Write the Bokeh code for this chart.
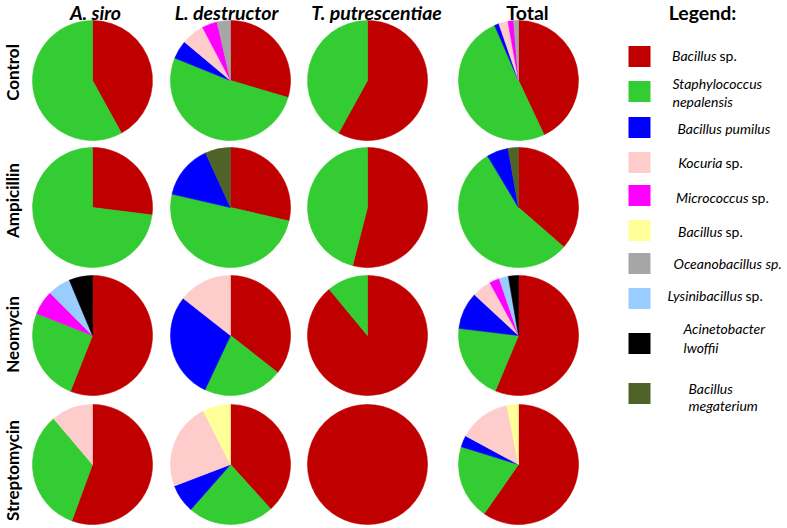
import math
from bokeh.plotting import figure
from bokeh.models import ColumnDataSource, Range1d
from bokeh.core.properties import value
from bokeh.embed import file_html
from bokeh.resources import INLINE

# ---------------- data ----------------
species = ["Bacillus sp.", "Staphylococcus nepalensis", "Bacillus pumilus", "Kocuria sp.",
           "Micrococcus sp.", "Bacillus sp.", "Oceanobacillus sp.", "Lysinibacillus sp.",
           "Acinetobacter lwoffii", "Bacillus megaterium"]
colors = ["#C00000", "#33CC33", "#0000FF", "#FFCCCC", "#FF00FF",
          "#FFFF99", "#A6A6A6", "#99CCFF", "#000000", "#4F6228"]
mites = ["A. siro", "L. destructor", "T. putrescentiae", "Total"]
treatments = ["Control", "Ampicillin", "Neomycin", "Streptomycin"]

# percentages, in species order
control_asiro = [42, 58, 0, 0, 0, 0, 0, 0, 0, 0]
control_ldestructor = [29.6, 51.5, 5.0, 6.2, 4.1, 0, 3.6, 0, 0, 0]
control_tputrescentiae = [58, 42, 0, 0, 0, 0, 0, 0, 0, 0]
control_total = [43, 50.5, 1.2, 2.5, 1.5, 0, 1.3, 0, 0, 0]
ampicillin_asiro = [27, 73, 0, 0, 0, 0, 0, 0, 0, 0]
ampicillin_ldestructor = [28.6, 50, 14.6, 0, 0, 0, 0, 0, 0, 6.8]
ampicillin_tputrescentiae = [54, 46, 0, 0, 0, 0, 0, 0, 0, 0]
ampicillin_total = [36.4, 55, 5.8, 0, 0, 0, 0, 0, 0, 2.8]
neomycin_asiro = [56, 25, 0, 0, 6.5, 0, 0, 6.2, 6.3, 0]
neomycin_ldestructor = [35.6, 21.4, 28.6, 14.4, 0, 0, 0, 0, 0, 0]
neomycin_tputrescentiae = [89, 11, 0, 0, 0, 0, 0, 0, 0, 0]
neomycin_total = [56.3, 20.6, 10, 5.2, 2.7, 0, 0, 2.5, 2.7, 0]
streptomycin_asiro = [55.6, 33.2, 0, 11.2, 0, 0, 0, 0, 0, 0]
streptomycin_ldestructor = [38.3, 23.2, 7.7, 23.3, 0, 7.5, 0, 0, 0, 0]
streptomycin_tputrescentiae = [100, 0, 0, 0, 0, 0, 0, 0, 0, 0]
streptomycin_total = [59.7, 20.1, 3.1, 14, 0, 3.1, 0, 0, 0, 0]

grid = [
    [control_asiro, control_ldestructor, control_tputrescentiae, control_total],
    [ampicillin_asiro, ampicillin_ldestructor, ampicillin_tputrescentiae, ampicillin_total],
    [neomycin_asiro, neomycin_ldestructor, neomycin_tputrescentiae, neomycin_total],
    [streptomycin_asiro, streptomycin_ldestructor, streptomycin_tputrescentiae, streptomycin_total],
]

# ---------------- layout (page pixel coordinates) ----------------
W, H = 787, 528
def Y(py):
    return H - py

col_x = [92, 230, 367, 518]
row_y = [80, 207, 335, 464]
R = 60

p = figure(width=W, height=H, output_backend="svg", toolbar_location=None,
           x_range=Range1d(0, W), y_range=Range1d(0, H),
           min_border=0, outline_line_color=None)
p.axis.visible = False
p.grid.visible = False

xs, ys, st, en, cl = [], [], [], [], []
for ri, row in enumerate(grid):
    for ci, vals in enumerate(row):
        tot = sum(vals)
        cum = 0.0
        for k, v in enumerate(vals):
            if v <= 0:
                continue
            a0 = cum / tot
            cum += v
            a1 = cum / tot
            if a1 - a0 > 0.9999:
                a1 = a0 + 0.99999
            xs.append(col_x[ci]); ys.append(Y(row_y[ri]))
            st.append(math.pi / 2 - 2 * math.pi * a1)
            en.append(math.pi / 2 - 2 * math.pi * a0)
            cl.append(colors[k])
src = ColumnDataSource(dict(x=xs, y=ys, start=st, end=en, color=cl))
p.wedge(x="x", y="y", radius=R, radius_units="screen", start_angle="start", end_angle="end",
        fill_color="color", line_color="color", line_width=0.6, source=src)

FONT = value("Lato")

# column headers
hdr_x = [95, 226, 376, 527]
hdr_style = ["bold italic", "bold italic", "bold italic", "bold"]
for t, x, s in zip(mites, hdr_x, hdr_style):
    p.text(x=[x], y=[Y(12)], text=[t], text_font=FONT, text_font_style=s,
           text_font_size="19.5px", text_align="center", text_baseline="middle", text_color="black")

# row labels
row_lab_y = [72, 200, 334, 470]
for t, yy in zip(treatments, row_lab_y):
    p.text(x=[12], y=[Y(yy)], text=[t], text_font=FONT, text_font_style="bold",
           text_font_size="17px", text_align="center", text_baseline="middle",
           angle=math.pi / 2, text_color="black")

# legend
p.text(x=[702], y=[Y(12)], text=["Legend:"], text_font=FONT, text_font_style="bold",
       text_font_size="19.5px", text_align="center", text_baseline="middle", text_color="black")
sw_y = [56, 91, 127, 162, 195, 230, 263, 298, 343, 393]
p.rect(x=[639] * len(colors), y=[Y(v) for v in sw_y], width=22, height=21,
       fill_color=colors, line_color=None)

# label pieces: (text, style, x, y, align)
pieces = [
    ("Bacillus", "italic", 716, 55, "right"), ("sp.", "normal", 719, 55, "left"),
    ("Staphylococcus", "italic", 672, 83, "left"), ("nepalensis", "italic", 672, 101, "left"),
    ("Bacillus pumilus", "italic", 677, 128, "left"),
    ("Kocuria", "italic", 722, 162, "right"), ("sp.", "normal", 725, 162, "left"),
    ("Micrococcus", "italic", 748, 197, "right"), ("sp.", "normal", 751, 197, "left"),
    ("Bacillus", "italic", 722, 231, "right"), ("sp.", "normal", 725, 231, "left"),
    ("Oceanobacillus sp.", "italic", 673, 263, "left"),
    ("Lysinibacillus", "italic", 742, 295, "right"), ("sp.", "normal", 745, 295, "left"),
    ("Acinetobacter", "italic", 683, 328, "left"), ("lwoffii", "italic", 683, 347, "left"),
    ("Bacillus", "italic", 688, 388, "left"), ("megaterium", "italic", 688, 405, "left"),
]
for t, s, x, yy, al in pieces:
    p.text(x=[x], y=[Y(yy)], text=[t], text_font=FONT, text_font_style=s,
           text_font_size="14px", text_align=al, text_baseline="middle", text_color="black")

open("out.html", "w").write(file_html(p, INLINE))
